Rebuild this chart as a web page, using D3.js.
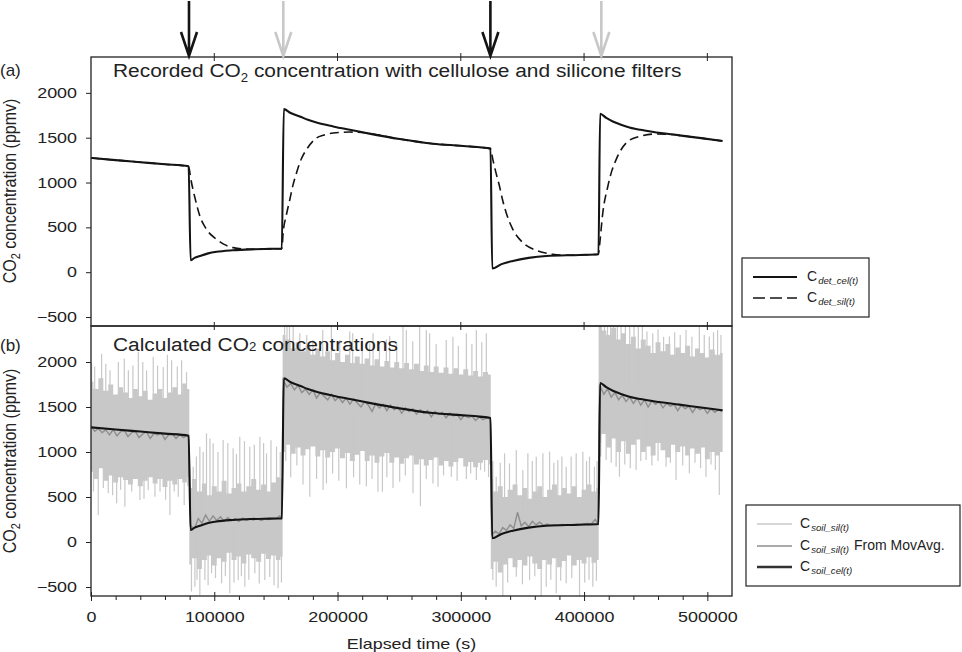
<!DOCTYPE html>
<html>
<head>
<meta charset="utf-8">
<script src="https://cdn.jsdelivr.net/npm/d3@7"></script>
<style>
  body { margin: 0; background: #fff; }
  svg { display: block; font-family: "Liberation Sans", Arial, sans-serif; }
</style>
</head>
<body>
<div id="chart"></div>
<script>
// Tick values
const xTicks = [0, 100000, 200000, 300000, 400000, 500000];
const yTicks = [-500, 0, 500, 1000, 1500, 2000];

// Filter switch times (arrows above panel a)
const arrowsBlack = [79500, 324000];
const arrowsGray = [156000, 414000];

// [time (s), ppmv] recorded with cellulose filter (same curve as C_soil_cel)
const celRows = [
  [0,1274],[20000,1250],[40000,1227],[60000,1204],[79200,1181],[80800,133],[84000,160],[88300,181],
  [95000,210],[101800,228],[115000,245],[130000,255],[145000,260],[154800,263],[156400,1819],
  [162000,1775],[169400,1737],[176000,1700],[182900,1670],[196400,1626],[210000,1588],[223400,1552],
  [250400,1485],[277400,1433],[300000,1410],[315200,1393],[324100,1378],[325500,41],[333000,90],
  [342200,126],[355000,160],[369300,181],[396300,192],[411700,200],[413000,1767],[418000,1720],
  [423300,1681],[430000,1645],[436800,1615],[450300,1578],[477300,1526],[495000,1495],[512400,1463]
];

// [time (s), ppmv] recorded with silicone filter
const silRows = [
  [0,1274],[20000,1250],[40000,1227],[60000,1204],[79200,1181],[80800,1052],[84500,820],[88300,626],
  [93700,478],[101800,367],[108000,310],[115300,274],[128800,256],[145000,260],[154800,263],
  [155900,444],[158500,640],[161300,811],[164000,980],[166700,1107],[170500,1260],[174800,1367],
  [182900,1496],[189000,1530],[196400,1552],[209900,1563],[223400,1552],[250400,1485],[277400,1433],
  [300000,1410],[315200,1393],[324100,1378],[326000,1256],[328500,1110],[331400,959],[334000,800],
  [336800,663],[342200,478],[350300,330],[361100,244],[374600,200],[385400,189],[396300,192],
  [411700,200],[412500,293],[415200,663],[419300,959],[422500,1130],[426000,1256],[434100,1441],
  [444900,1515],[458400,1541],[471900,1535],[477300,1526],[495000,1495],[512400,1463]
];

// [time (s), ppmv] C_soil_sil from moving average
const movAvgRows = [
  [0,1290],[3000,1230],[6000,1260],[9000,1215],[12000,1245],[15000,1190],[18000,1250],[21000,1180],
  [24000,1225],[27000,1240],[30000,1170],[33000,1215],[36000,1230],[39000,1160],[42000,1200],
  [45000,1225],[48000,1150],[51000,1205],[54000,1190],[57000,1215],[60000,1140],[63000,1190],
  [66000,1200],[69000,1150],[72000,1195],[75000,1160],[78000,1185],[79400,1180],
  [80600,180],[84000,150],[87000,260],[90000,210],[93000,300],[96000,230],[99000,290],[102000,240],
  [105000,280],[108000,230],[111000,270],[114000,240],[117000,260],[120000,230],[123000,265],
  [126000,240],[129000,255],[132000,245],[135000,260],[138000,240],[141000,255],[144000,250],
  [147000,258],[150000,255],[153000,290],[155000,265],
  [155800,1800],[159000,1720],[162000,1760],[165000,1690],[168000,1740],[171000,1660],[174000,1700],
  [177000,1640],[180000,1690],[183000,1600],[186000,1660],[189000,1620],[192000,1580],[195000,1640],
  [198000,1570],[201000,1610],[204000,1550],[207000,1600],[210000,1530],[213000,1590],[216000,1545],
  [219000,1500],[222000,1560],[225000,1520],[228000,1450],[231000,1540],[234000,1490],[237000,1530],
  [240000,1460],[243000,1520],[246000,1470],[249000,1500],[252000,1430],[255000,1490],[258000,1450],
  [261000,1480],[264000,1420],[267000,1470],[270000,1430],[273000,1460],[276000,1390],[279000,1450],
  [282000,1420],[285000,1440],[288000,1380],[291000,1430],[294000,1400],[297000,1420],[300000,1360],
  [303000,1410],[306000,1380],[309000,1400],[312000,1350],[315000,1390],[318000,1360],[321000,1380],
  [324000,1370],
  [325000,80],[328000,120],[331000,90],[334000,160],[337000,130],[340000,190],[343000,150],[346000,330],
  [349000,180],[352000,220],[355000,170],[358000,230],[361000,190],[364000,220],[367000,185],
  [370000,200],[373000,180],[376000,190],[379000,185],[382000,195],[385000,190],[388000,190],
  [391000,195],[394000,200],[397000,195],[400000,200],[403000,205],[406000,200],[409000,250],[411300,205],
  [412500,1750],[416000,1640],[419000,1700],[422000,1610],[425000,1660],[428000,1580],[431000,1630],
  [434000,1560],[437000,1610],[440000,1540],[443000,1600],[446000,1520],[449000,1580],[452000,1500],
  [455000,1570],[458000,1530],[461000,1560],[464000,1490],[467000,1540],[470000,1510],[473000,1530],
  [476000,1460],[479000,1520],[482000,1480],[485000,1510],[488000,1440],[491000,1500],[494000,1470],
  [497000,1490],[500000,1430],[503000,1480],[506000,1440],[509000,1470],[512000,1450]
];

// [time (s), low, high] dense part of the raw C_soil_sil trace
const bandRows = [
  [0,780,1780],[4000,700,1700],[8000,820,1820],[12000,680,1680],[16000,740,1750],[20000,660,1640],
  [24000,720,1720],[28000,690,1660],[32000,640,1600],[36000,700,1700],[40000,620,1620],[44000,680,1680],
  [48000,720,1580],[52000,650,1650],[56000,700,1700],[60000,610,1600],[64000,680,1660],[68000,640,1720],
  [72000,700,1640],[76000,660,1760],[79500,720,1700],
  [80000,-250,600],[84000,-180,700],[88000,-300,560],[92000,-200,650],[96000,-150,520],[100000,-260,620],
  [104000,-180,560],[108000,-220,680],[112000,-120,540],[116000,-200,600],[120000,-160,650],
  [124000,-240,560],[128000,-140,620],[132000,-180,700],[136000,-220,580],[140000,-130,640],
  [144000,-190,560],[148000,-150,660],[152000,-200,720],[155300,-160,700],
  [155600,1000,2300],[160000,1080,2250],[164000,980,2150],[168000,1050,2220],[172000,960,2120],
  [176000,1030,2180],[180000,1060,2080],[184000,950,2150],[188000,1020,2060],[192000,940,2120],
  [196000,1000,2020],[200000,1040,2100],[204000,930,2000],[208000,990,2080],[212000,900,1990],
  [216000,970,2060],[220000,1010,1980],[224000,900,2040],[228000,960,1960],[232000,880,2030],
  [236000,950,1950],[240000,990,2010],[244000,880,1940],[248000,940,2000],[252000,870,1930],
  [256000,930,1990],[260000,960,1920],[264000,860,1980],[268000,920,1900],[272000,850,1960],
  [276000,910,1890],[280000,940,1950],[284000,850,1880],[288000,900,1940],[292000,840,1870],
  [296000,890,1930],[300000,930,1860],[304000,840,1920],[308000,890,1850],[312000,830,1900],
  [316000,880,1840],[320000,910,1890],[324100,860,1860],
  [324500,-300,700],[328000,-220,560],[332000,-340,620],[336000,-250,500],[340000,-180,580],
  [344000,-280,640],[348000,-200,520],[352000,-260,600],[356000,-160,480],[360000,-240,560],
  [364000,-300,620],[368000,-200,500],[372000,-250,580],[376000,-180,640],[380000,-280,520],
  [384000,-210,600],[388000,-150,540],[392000,-260,620],[396000,-200,500],[400000,-240,580],
  [404000,-170,640],[408000,-230,560],[411700,-200,600],
  [412000,1100,2400],[416000,1200,2350],[420000,1050,2300],[424000,1150,2380],[428000,1000,2250],
  [432000,1120,2320],[436000,980,2200],[440000,1080,2280],[444000,1140,2150],[448000,1000,2250],
  [452000,1060,2180],[456000,960,2100],[460000,1100,2220],[464000,1020,2120],[468000,940,2200],
  [472000,1080,2080],[476000,1000,2160],[480000,1060,2100],[484000,960,2180],[488000,1040,2060],
  [492000,980,2150],[496000,1050,2100],[500000,920,2050],[504000,1000,2140],[508000,960,2080],
  [512400,1000,2100]
];

// [time (s), ppmv] isolated spikes of the raw C_soil_sil trace
const spikeRows = [
  [500,1990],[3000,1950],[8600,2093],[12000,1980],[15400,1907],[22200,2000],[27000,2040],[30300,1907],
  [34000,1960],[38400,2115],[42000,2000],[45100,1907],[50500,2056],[54000,1960],[58600,1944],
  [62000,2080],[65400,2019],[70000,1950],[73500,2019],[77500,1889],
  [2000,560],[5900,300],[10000,600],[14000,541],[17500,520],[20800,430],[24000,580],[27500,393],
  [33000,560],[39700,467],[43000,480],[46400,578],[51900,504],[56000,560],[60500,470],[64000,300],
  [67500,560],[70800,504],[75600,411],[78500,620],
  [82900,837],[85500,950],[88300,1059],[91000,1000],[93700,1207],[96500,1150],[99100,1096],
  [103000,1000],[107200,1133],[111000,1100],[115300,1041],[118000,980],[120700,1170],[124500,1120],
  [128800,1059],[132500,1080],[137000,1170],[140000,1100],[142400,985],[146000,1130],[150500,1059],
  [153500,1000],
  [81500,-550],[84300,-496],[86000,-420],[88300,-589],[92400,-422],[95000,-480],[97800,-348],
  [101000,-400],[105900,-459],[109000,-380],[112600,-570],[116000,-450],[119400,-422],[122000,-380],
  [124800,-496],[128000,-420],[132900,-348],[136500,-460],[141000,-422],[145000,-390],[148500,-480],
  [151800,-515],[154500,-450],
  [157000,2400],[159000,2400],[161000,2400],[164000,2400],[169400,2319],[175000,2300],[180000,2244],
  [188000,2355],[195000,2393],[201800,2244],[209900,2340],[212300,2319],[220000,2250],[226100,2207],
  [228800,2320],[234000,2230],[239600,2250],[242300,2290],[248000,2200],[253100,2400],[255800,2355],
  [261000,2230],[266600,2393],[272000,2355],[274700,2319],[280000,2200],[288200,2244],[293600,2280],
  [298000,2180],[304500,2319],[309000,2200],[312600,2355],[317000,2220],[320700,2319],
  [158000,900],[162000,720],[167000,850],[172000,640],[177500,504],[183000,700],[188300,578],
  [191000,650],[196000,760],[201000,680],[207200,596],[213000,720],[218000,640],[223400,620],
  [228000,700],[232800,559],[236400,559],[240000,720],[245000,600],[250400,670],[255000,740],
  [261200,541],[267200,400],[272000,700],[277400,650],[281500,615],[286000,740],[292300,726],
  [297000,680],[304500,700],[308000,760],[312600,690],[316000,800],[319300,781],[322500,720],
  [326000,900],[328700,726],[332000,880],[335500,985],[339500,874],[345000,1022],[350300,800],
  [354400,985],[358000,900],[361200,948],[366600,985],[372000,1004],[375500,880],[378700,911],
  [382000,950],[385500,837],[389500,950],[393600,985],[399000,1004],[402000,900],[404400,948],
  [408400,837],[410500,900],
  [326000,-422],[328700,-496],[334100,-600],[338000,-450],[345000,-385],[350000,-470],[355800,-422],
  [360000,-380],[365200,-600],[369300,-496],[373000,-420],[377400,-570],[381000,-430],[385500,-459],
  [390000,-400],[396300,-600],[400500,-450],[404000,-420],[407100,-496],[410000,-430],
  [412500,2400],[414000,2400],[416500,2400],[419000,2400],[421500,2400],[424000,2400],[427000,2400],
  [430000,2400],[433500,2400],[437000,2400],[440500,2400],[444000,2400],[447300,2400],[451000,2340],
  [455700,2319],[460000,2360],[464500,2280],[469200,2282],[473500,2330],[478000,2300],[482700,2355],
  [487500,2280],[493500,2393],[497500,2300],[501600,2282],[505000,2330],[508300,2355],[511000,2300],
  [413500,950],[417900,911],[422000,880],[426000,837],[428700,726],[433000,860],[437500,820],
  [442200,800],[446000,900],[450300,911],[455000,850],[460000,900],[466500,837],[470000,880],
  [474600,689],[480000,850],[485400,763],[490000,880],[494500,820],[498900,726],[503000,860],
  [506500,800],[509700,522]
];

// Set up the dimensions
const width = 962, height = 652;
const left = 91, right = 732;
const panelA = { top: 57, bottom: 326 };
const panelB = { top: 326, bottom: 596 };
const lightGray = "#c8c8c8", midGray = "#8e8e8e", ink = "#141414";
const fmt = d3.format("d");

const svg = d3.select("#chart")
  .append("svg")
  .attr("width", width)
  .attr("height", height);

// Create scales
const x = d3.scaleLinear().domain([0, 520000]).range([left, right]);
const yA = d3.scaleLinear().domain([-600, 2400]).range([panelA.bottom, panelA.top]);
const yB = d3.scaleLinear().domain([-600, 2400]).range([panelB.bottom, panelB.top]);

// Clip paths
const defs = svg.append("defs");
[["clipA", panelA], ["clipB", panelB]].forEach(([id, p]) => {
  defs.append("clipPath").attr("id", id)
    .append("rect")
    .attr("x", left).attr("y", p.top)
    .attr("width", right - left).attr("height", p.bottom - p.top);
});

// Panel (a) lines
const lineA = d3.line().x(d => x(d[0])).y(d => yA(d[1])).curve(d3.curveMonotoneX);
const gA = svg.append("g").attr("clip-path", "url(#clipA)");
gA.append("path").datum(silRows)
  .attr("d", lineA).attr("fill", "none")
  .attr("stroke", ink).attr("stroke-width", 1.6).attr("stroke-dasharray", "9,5");
gA.append("path").datum(celRows)
  .attr("d", lineA).attr("fill", "none")
  .attr("stroke", ink).attr("stroke-width", 2.1);

// Panel (b)
const gB = svg.append("g").attr("clip-path", "url(#clipB)");
gB.append("path").datum(bandRows)
  .attr("d", d3.area().x(d => x(d[0])).y0(d => yB(d[1])).y1(d => yB(d[2])).curve(d3.curveStep))
  .attr("fill", lightGray);

const bisectT = d3.bisector(d => d[0]).center;
gB.append("g").selectAll("line")
  .data(spikeRows)
  .join("line")
  .attr("x1", d => x(d[0])).attr("x2", d => x(d[0]))
  .attr("y1", d => { const b = bandRows[bisectT(bandRows, d[0])]; return yB((b[1] + b[2]) / 2); })
  .attr("y2", d => yB(d[1]))
  .attr("stroke", lightGray).attr("stroke-width", 1.2);

const lineB = d3.line().x(d => x(d[0])).y(d => yB(d[1]));
gB.append("path").datum(movAvgRows)
  .attr("d", lineB).attr("fill", "none")
  .attr("stroke", midGray).attr("stroke-width", 1.4);
gB.append("path").datum(celRows)
  .attr("d", lineB.curve(d3.curveMonotoneX)).attr("fill", "none")
  .attr("stroke", ink).attr("stroke-width", 2.1);

// Y axes
[yA, yB].forEach(y => {
  const g = svg.append("g")
    .attr("transform", `translate(${left},0)`)
    .call(d3.axisLeft(y).tickValues(yTicks).tickFormat(fmt).tickSize(5).tickSizeOuter(0));
  g.select(".domain").remove();
  g.attr("font-family", null).attr("font-size", null).attr("color", "#222");
  g.selectAll("text")
    .attr("x", -14 / 1.28)
    .attr("transform", "scale(1.28,1)")
    .style("font-size", "14px")
    .attr("fill", "#222");
});

// X axis (bottom of b)
const gx = svg.append("g")
  .attr("transform", `translate(0,${panelB.bottom})`)
  .call(d3.axisBottom(x).tickValues(xTicks).tickFormat(fmt).tickSize(5).tickSizeOuter(0));
gx.select(".domain").remove();
gx.attr("font-family", null).attr("font-size", null).attr("color", "#222");
gx.selectAll("line").attr("y1", -4);
gx.selectAll("text")
  .attr("y", 16)
  .attr("transform", "scale(1.28,1)")
  .style("font-size", "14px")
  .attr("fill", "#222");

const minorTicks = d3.range(20000, 520000, 20000).filter(d => d % 100000 !== 0);
const gm = svg.append("g")
  .attr("transform", `translate(0,${panelB.bottom})`)
  .call(d3.axisBottom(x).tickValues(minorTicks).tickSize(4).tickFormat(() => ""));
gm.select(".domain").remove();
gm.attr("color", "#222");

// Major ticks on the top border and the shared border
[panelA.top, panelA.bottom].forEach(yy => {
  svg.append("g").selectAll("line")
    .data(xTicks.slice(1))
    .join("line")
    .attr("x1", d => x(d)).attr("x2", d => x(d))
    .attr("y1", yy - 4).attr("y2", yy + 4)
    .attr("stroke", "#222").attr("stroke-width", 1);
});

// Frames
[panelA, panelB].forEach(p => {
  svg.append("rect")
    .attr("x", left).attr("y", p.top)
    .attr("width", right - left).attr("height", p.bottom - p.top)
    .attr("fill", "none").attr("stroke", "#222").attr("stroke-width", 1.3);
});

// Arrows
function arrow(t, color) {
  const ax = x(t);
  svg.append("path")
    .attr("d", `M${ax},1V${panelA.top - 1}M${ax - 8},32L${ax},${panelA.top - 1}L${ax + 8},32`)
    .attr("fill", "none").attr("stroke", color)
    .attr("stroke-width", 2.6).attr("stroke-linejoin", "miter");
}
arrowsBlack.forEach(t => arrow(t, ink));
arrowsGray.forEach(t => arrow(t, lightGray));

// Panel letters and titles
svg.append("text").attr("x", 0).attr("y", 76).style("font-size", "17px").attr("fill", "#222").text("(a)");
svg.append("text").attr("x", 0).attr("y", 351).style("font-size", "17px").attr("fill", "#222").text("(b)");

const titleA = svg.append("text")
  .attr("transform", "translate(113,77) scale(1.1,1)")
  .style("font-size", "19px").attr("fill", "#222");
titleA.append("tspan").text("Recorded CO");
titleA.append("tspan").attr("dy", 5).style("font-size", "12px").text("2");
titleA.append("tspan").attr("dy", -5).text(" concentration with cellulose and silicone filters");

const titleB = svg.append("text")
  .attr("transform", "translate(113,351) scale(1.1,1)")
  .style("font-size", "19px").attr("fill", "#222");
titleB.append("tspan").text("Calculated CO");
titleB.append("tspan").style("font-size", "12px").text("2");
titleB.append("tspan").text(" concentrations");

// Axis titles
[191, 461].forEach(cy => {
  const t = svg.append("text")
    .attr("transform", `translate(16,${cy}) scale(1.1,1) rotate(-90)`)
    .attr("text-anchor", "middle")
    .style("font-size", "16px").attr("fill", "#222");
  t.append("tspan").text("CO");
  t.append("tspan").attr("dy", 4).style("font-size", "11px").text("2");
  t.append("tspan").attr("dy", -4).text(" concentration (ppmv)");
});

svg.append("text")
  .attr("transform", `translate(${(left + right) / 2},649) scale(1.28,1)`)
  .attr("text-anchor", "middle")
  .style("font-size", "14px").attr("fill", "#222")
  .text("Elapsed time (s)");

// Legends
function legendEntry(lx, ly, cx, sub, stroke) {
  svg.append("line")
    .attr("x1", lx[0]).attr("x2", lx[1]).attr("y1", ly).attr("y2", ly)
    .attr("stroke", stroke.color).attr("stroke-width", stroke.width)
    .attr("stroke-dasharray", stroke.dash || null);
  const t = svg.append("text").attr("x", cx).attr("y", ly + 4)
    .style("font-size", "14px").attr("fill", "#222");
  t.append("tspan").text("C");
  t.append("tspan").attr("dx", 1).attr("dy", 3)
    .style("font-size", "9.6px").style("font-style", "italic").text(sub);
}

svg.append("rect").attr("x", 742).attr("y", 258).attr("width", 127).attr("height", 59)
  .attr("fill", "#fff").attr("stroke", "#222").attr("stroke-width", 1.2);
legendEntry([753, 797], 277, 807, "det_cel(t)", { color: ink, width: 2.1 });
legendEntry([753, 797], 298, 807, "det_sil(t)", { color: ink, width: 1.6, dash: "12,5" });

svg.append("rect").attr("x", 746).attr("y", 505).attr("width", 214).attr("height", 81)
  .attr("fill", "#fff").attr("stroke", "#222").attr("stroke-width", 1.2);
legendEntry([757, 792], 524, 800, "soil_sil(t)", { color: lightGray, width: 1.4 });
legendEntry([757, 792], 546, 800, "soil_sil(t)", { color: midGray, width: 1.6 });
legendEntry([757, 792], 567, 800, "soil_cel(t)", { color: "#333", width: 2.4 });
svg.append("text").attr("x", 854).attr("y", 550)
  .style("font-size", "14px").attr("fill", "#222").text("From MovAvg.");
</script>
</body>
</html>
